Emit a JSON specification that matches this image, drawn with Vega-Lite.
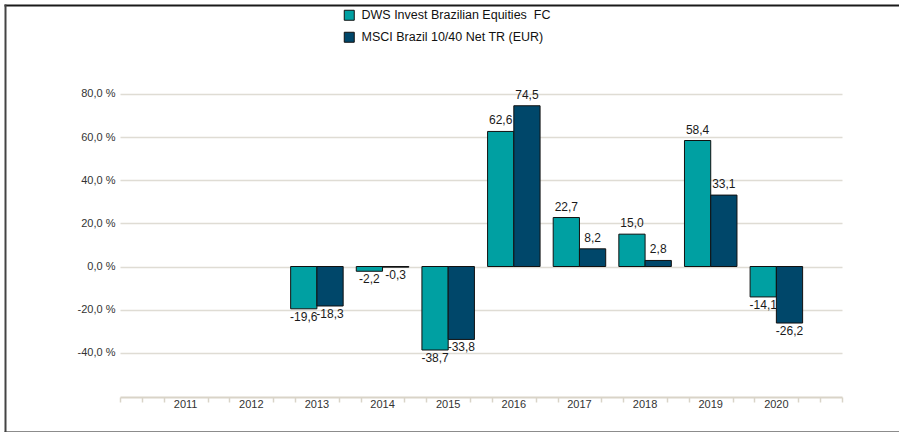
{
  "$schema": "https://vega.github.io/schema/vega-lite/v6.json",
  "width": 894,
  "height": 427,
  "autosize": {"type": "none"},
  "padding": {"left": 5, "top": 5, "right": 0, "bottom": 0},
  "config": {
    "locale": {"number": {"decimal": ",", "thousands": ".", "grouping": [3], "currency": ["", " €"], "minus": "-"}},
    "font": "Liberation Sans",
    "view": {"stroke": null}
  },
  "datasets": {
    "returns": [
      {"year": "2013", "series": "DWS Invest Brazilian Equities\u00a0 FC", "value": -19.6},
      {"year": "2013", "series": "MSCI Brazil 10/40 Net TR (EUR)", "value": -18.3},
      {"year": "2014", "series": "DWS Invest Brazilian Equities\u00a0 FC", "value": -2.2},
      {"year": "2014", "series": "MSCI Brazil 10/40 Net TR (EUR)", "value": -0.3},
      {"year": "2015", "series": "DWS Invest Brazilian Equities\u00a0 FC", "value": -38.7},
      {"year": "2015", "series": "MSCI Brazil 10/40 Net TR (EUR)", "value": -33.8},
      {"year": "2016", "series": "DWS Invest Brazilian Equities\u00a0 FC", "value": 62.6},
      {"year": "2016", "series": "MSCI Brazil 10/40 Net TR (EUR)", "value": 74.5},
      {"year": "2017", "series": "DWS Invest Brazilian Equities\u00a0 FC", "value": 22.7},
      {"year": "2017", "series": "MSCI Brazil 10/40 Net TR (EUR)", "value": 8.2},
      {"year": "2018", "series": "DWS Invest Brazilian Equities\u00a0 FC", "value": 15.0},
      {"year": "2018", "series": "MSCI Brazil 10/40 Net TR (EUR)", "value": 2.8},
      {"year": "2019", "series": "DWS Invest Brazilian Equities\u00a0 FC", "value": 58.4},
      {"year": "2019", "series": "MSCI Brazil 10/40 Net TR (EUR)", "value": 33.1},
      {"year": "2020", "series": "DWS Invest Brazilian Equities\u00a0 FC", "value": -14.1},
      {"year": "2020", "series": "MSCI Brazil 10/40 Net TR (EUR)", "value": -26.2}
    ],
    "axisline": [{"start": 0}]
  },
  "layer": [
    {
      "data": {"name": "returns"},
      "encoding": {
        "x": {
          "field": "year",
          "type": "nominal",
          "scale": {"domain": ["2011", "2012", "2013", "2014", "2015", "2016", "2017", "2018", "2019", "2020"], "range": [115, 837], "paddingInner": 0, "paddingOuter": 0.5},
          "axis": {"orient": "bottom", "offset": -35, "domain": false, "ticks": false, "labelPadding": 1, "labelFontSize": 11, "labelColor": "#333333", "labelAngle": 0, "title": null, "grid": false}
        },
        "xOffset": {
          "field": "series",
          "type": "nominal",
          "scale": {"domain": ["DWS Invest Brazilian Equities\u00a0 FC", "MSCI Brazil 10/40 Net TR (EUR)"], "paddingInner": 0, "paddingOuter": 0.25}
        },
        "y": {
          "field": "value",
          "type": "quantitative",
          "scale": {"domain": [-76.7, 121.2], "nice": false, "zero": false},
          "axis": {"orient": "left", "offset": -110, "domain": false, "ticks": false, "tickSize": 0, "labelPadding": 0, "values": [-40, -20, 0, 20, 40, 60, 80], "grid": true, "gridColor": "#dfdcd4", "gridWidth": 1.5, "format": ".1f", "labelExpr": "datum.label + ' %'", "labelFontSize": 11, "labelColor": "#333333", "title": null}
        }
      },
      "layer": [
        {
          "mark": {"type": "bar", "stroke": "#111111", "strokeWidth": 1},
          "encoding": {
            "color": {
              "field": "series",
              "type": "nominal",
              "scale": {"domain": ["DWS Invest Brazilian Equities\u00a0 FC", "MSCI Brazil 10/40 Net TR (EUR)"], "range": ["#00a0a2", "#00476a"]},
              "legend": {"orient": "none", "legendX": 338, "legendY": 4, "direction": "vertical", "title": null, "symbolType": "square", "symbolSize": 100, "symbolStrokeColor": "#111111", "symbolStrokeWidth": 1, "labelFontSize": 12.5, "labelColor": "#111111", "labelLimit": 0, "rowPadding": 7, "labelOffset": 6, "padding": 0}
            }
          }
        },
        {
          "transform": [{"filter": "datum.value >= 0"}],
          "mark": {"type": "text", "baseline": "bottom", "dy": -4, "fontSize": 12, "color": "#1a1a1a"},
          "encoding": {"text": {"field": "value", "type": "quantitative", "format": ".1f"}}
        },
        {
          "transform": [{"filter": "datum.value < 0"}],
          "mark": {"type": "text", "baseline": "top", "dy": 3, "fontSize": 12, "color": "#1a1a1a"},
          "encoding": {"text": {"field": "value", "type": "quantitative", "format": ".1f"}}
        }
      ]
    },
    {
      "data": {"name": "axisline"},
      "mark": {"type": "rule", "opacity": 0},
      "encoding": {
        "x": {
          "field": "start",
          "type": "quantitative",
          "scale": {"domain": [0, 33], "range": [115, 837], "nice": false, "zero": false},
          "axis": {"orient": "bottom", "offset": -35, "values": [0, 1, 2, 4, 5, 7, 8, 10, 11, 13, 14, 16, 17, 19, 20, 22, 23, 25, 26, 28, 29, 31, 32, 33], "labels": false, "grid": false, "domain": true, "domainColor": "#d9d4c8", "domainWidth": 2, "ticks": true, "tickColor": "#d9d4c8", "tickSize": 5, "tickWidth": 1.5, "title": null}
        }
      }
    },
    {
      "data": {"name": "axisline"},
      "mark": {"type": "rule", "opacity": 0},
      "encoding": {
        "x": {
          "field": "start",
          "type": "quantitative",
          "scale": {"domain": [0, 1], "nice": false, "zero": false},
          "axis": {"orient": "top", "labels": false, "ticks": false, "grid": false, "domain": true, "domainColor": "#1a1a1a", "domainWidth": 2, "domainCap": "square", "title": null}
        }
      }
    },
    {
      "data": {"name": "axisline"},
      "mark": {"type": "rule", "opacity": 0},
      "encoding": {
        "x": {
          "field": "start",
          "type": "quantitative",
          "scale": {"domain": [0, 1], "nice": false, "zero": false},
          "axis": {"orient": "bottom", "labels": false, "ticks": false, "grid": false, "domain": true, "domainColor": "#1a1a1a", "domainWidth": 2, "domainCap": "square", "title": null}
        },
        "y": {
          "field": "start",
          "type": "quantitative",
          "scale": {"domain": [0, 1], "nice": false, "zero": false},
          "axis": {"orient": "left", "labels": false, "ticks": false, "grid": false, "domain": true, "domainColor": "#444444", "domainWidth": 2, "domainCap": "square", "title": null}
        }
      }
    }
  ],
  "resolve": {"scale": {"x": "independent", "y": "independent"}, "axis": {"x": "independent", "y": "independent"}}
}
